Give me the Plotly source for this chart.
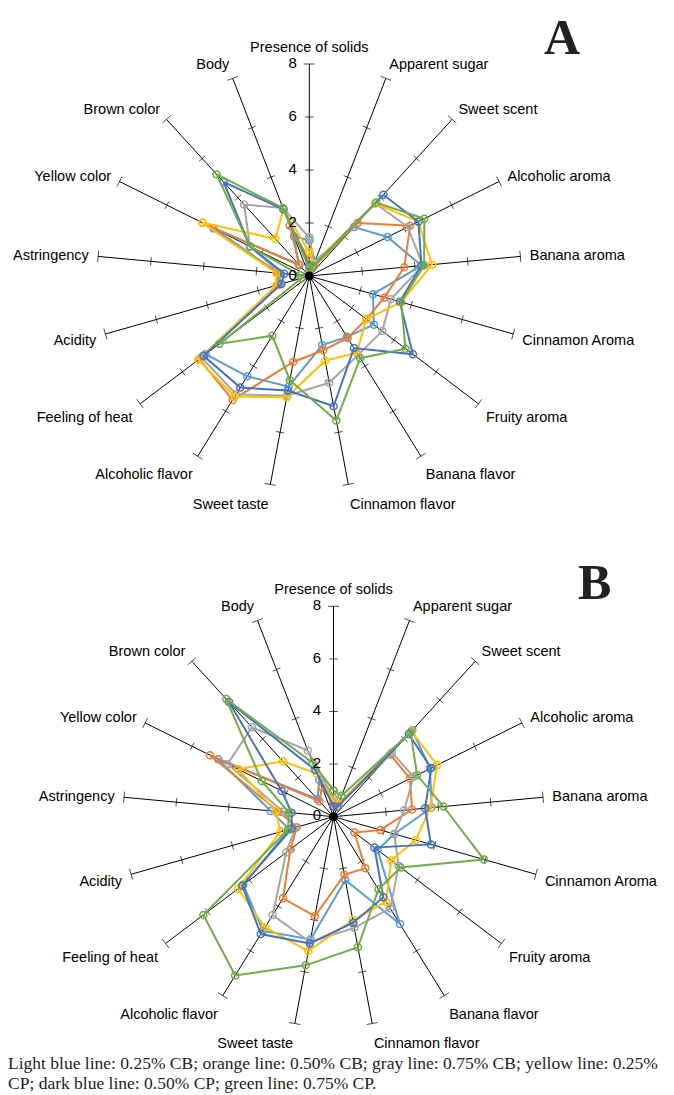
import plotly.graph_objects as go

categories = ["Presence of solids", "Apparent sugar", "Sweet scent", "Alcoholic aroma",
              "Banana aroma", "Cinnamon Aroma", "Fruity aroma", "Banana flavor",
              "Cinnamon flavor", "Sweet taste", "Alcoholic flavor", "Feeling of heat",
              "Acidity", "Astringency", "Yellow color", "Brown color", "Body"]
tick_values = [2, 4, 6, 8]
label_values = [0, 2, 4, 6, 8]
series_names = ["0.25% CB", "0.50% CB", "0.75% CB", "0.25% CP", "0.50% CP", "0.75% CP"]
colors = ["#5B9BD5", "#ED7D31", "#A5A5A5", "#FFC000", "#4472C4", "#70AD47"]

# Panel A
a_light_blue = [1.35, 0.6, 2.5, 3.3, 4.25, 2.5, 3.05, 2.7, 2.65, 4.25, 4.45, 4.9, 1.2, 1.15, 4.05, 0.6, 1.6]
a_orange     = [0.6, 0.3, 2.7, 4.25, 3.6, 2.95, 2.7, 2.75, 2.85, 3.3, 5.5, 5.2, 1.25, 1.2, 4.5, 0.55, 2.05]
a_gray       = [1.45, 0.5, 3.7, 4.15, 4.3, 3.2, 3.45, 3.5, 4.1, 4.6, 5.25, 5.1, 1.15, 1.1, 2.5, 3.65, 2.75]
a_yellow     = [0.9, 0.5, 3.7, 4.6, 4.65, 3.6, 2.7, 3.4, 3.25, 4.65, 5.35, 5.25, 1.3, 1.25, 4.5, 1.9, 2.7]
a_dark_blue  = [0.4, 0.4, 4.15, 4.6, 4.25, 3.55, 4.9, 3.2, 5.0, 4.4, 4.95, 5.0, 1.1, 0.95, 2.5, 4.8, 2.7]
a_green      = [0.3, 0.4, 3.75, 4.85, 4.35, 3.6, 4.55, 3.65, 5.55, 4.0, 2.65, 4.25, 0.3, 0.35, 2.5, 5.2, 2.75]

# Panel B
b_light_blue = [0.6, 0.5, 4.45, 4.1, 3.75, 2.4, 2.1, 4.8, 2.45, 4.75, 5.1, 4.3, 1.75, 2.4, 4.9, 0.9, 1.5]
b_orange     = [0.5, 0.4, 3.2, 3.25, 3.0, 1.85, 1.0, 2.3, 2.25, 3.85, 3.65, 2.05, 1.45, 2.1, 5.25, 0.8, 1.2]
b_gray       = [0.7, 0.5, 3.3, 3.4, 2.7, 2.4, 3.1, 4.1, 4.3, 4.85, 4.4, 2.25, 1.5, 1.9, 4.5, 4.6, 2.7]
b_yellow     = [0.6, 0.5, 4.4, 4.4, 3.7, 3.25, 2.75, 3.8, 4.0, 5.2, 4.95, 4.55, 2.1, 2.2, 4.05, 2.85, 1.75]
b_dark_blue  = [0.4, 0.4, 4.25, 4.15, 3.5, 3.85, 1.95, 3.6, 4.1, 4.9, 5.25, 4.35, 1.65, 1.6, 2.2, 5.9, 1.9]
b_green      = [1.0, 0.85, 4.35, 3.55, 4.2, 5.95, 3.2, 3.25, 5.05, 5.75, 7.1, 6.2, 1.8, 1.7, 3.05, 6.05, 2.2]

panel_a = [a_light_blue, a_orange, a_gray, a_yellow, a_dark_blue, a_green]
panel_b = [b_light_blue, b_orange, b_gray, b_yellow, b_dark_blue, b_green]

caption_1 = "Light blue line: 0.25% CB; orange line: 0.50% CB; gray line: 0.75% CB; yellow line: 0.25%"
caption_2 = "CP; dark blue line: 0.50% CP; green line: 0.75% CP."

n = len(categories)
step = 360.0 / n
NB = "\u00a0"

fig = go.Figure()


def add_panel(subplot, data):
    # spoke tick marks
    th, rr, ang, sz = [], [], [], []
    for i, c in enumerate(categories):
        for t in tick_values:
            th.append(c)
            rr.append(t)
            ang.append(i * step)
            sz.append(8 if t == tick_values[-1] else 6)
    fig.add_trace(go.Scatterpolar(
        r=rr, theta=th, mode="markers", subplot=subplot, showlegend=False, hoverinfo="skip",
        marker=dict(symbol="line-ew", size=sz, angle=ang, color="black",
                    line=dict(color="black", width=1))))
    # series
    for name, vals, col in zip(series_names, data, colors):
        fig.add_trace(go.Scatterpolar(
            r=vals + [vals[0]], theta=categories + [categories[0]],
            mode="lines+markers", name=name, subplot=subplot, showlegend=False,
            line=dict(color=col, width=2),
            marker=dict(symbol="circle-open", size=7, color=col, line=dict(color=col, width=1.5))))
    # hub
    fig.add_trace(go.Scatterpolar(
        r=[0], theta=[categories[0]], mode="markers", subplot=subplot, showlegend=False,
        hoverinfo="skip", marker=dict(color="black", size=9)))
    # radial labels
    fig.add_trace(go.Scatterpolar(
        r=label_values, theta=[categories[0]] * len(label_values), mode="text",
        text=[str(v) + NB * 3 for v in label_values], textposition="middle left",
        textfont=dict(family="Liberation Sans, Arial", size=15, color="black"),
        subplot=subplot, showlegend=False, hoverinfo="skip"))


add_panel("polar", panel_a)
add_panel("polar2", panel_b)

# the page body adds an 8px margin: the figure is sized to fit the window
OFF = 8
W, H = 674 - OFF, 1095 - OFF


def dom(cx, cy, rad):
    cx -= OFF
    cy -= OFF
    return dict(x=[(cx - rad) / W, (cx + rad) / W],
                y=[1 - (cy + rad) / H, 1 - (cy - rad) / H])


def px(x):
    return (x - OFF) / W


def py(y):
    return 1 - (y - OFF) / H


def polar_layout(d):
    return dict(
        domain=d,
        bgcolor="white",
        radialaxis=dict(range=[0, 8], showgrid=False, showline=False, showticklabels=False,
                        ticks=""),
        angularaxis=dict(type="category", categoryarray=categories, direction="clockwise",
                         rotation=90, showline=False, ticks="outside", ticklen=6,
                         tickcolor="rgba(0,0,0,0)", showgrid=True,
                         gridcolor="black", gridwidth=1,
                         tickfont=dict(family="Liberation Sans, Arial", size=14.5, color="black")),
    )


serif = "Liberation Serif, Times New Roman"
fig.update_layout(
    width=W, height=H,
    margin=dict(l=0, r=0, t=0, b=0),
    paper_bgcolor="white",
    plot_bgcolor="white",
    polar=polar_layout(dom(309.3, 276, 212)),
    polar2=polar_layout(dom(333.5, 816.7, 210.4)),
    annotations=[
        dict(text="<b>A</b>", x=px(562), y=1, xref="paper", yref="paper",
             xanchor="center", yanchor="top", showarrow=False, borderpad=0,
             font=dict(family=serif, size=50, color="#222")),
        dict(text="<b>B</b>", x=px(594), y=py(582), xref="paper", yref="paper",
             xanchor="center", yanchor="middle", showarrow=False,
             font=dict(family=serif, size=50, color="#222")),
        dict(text=caption_1, x=px(6), y=py(1063), xref="paper", yref="paper",
             xanchor="left", yanchor="middle", align="left", showarrow=False,
             font=dict(family=serif, size=17.5, color="#222")),
        dict(text=caption_2, x=px(6), y=py(1083), xref="paper", yref="paper",
             xanchor="left", yanchor="middle", align="left", showarrow=False,
             font=dict(family=serif, size=17.5, color="#222")),
    ],
)

fig.write_html("out.html")
